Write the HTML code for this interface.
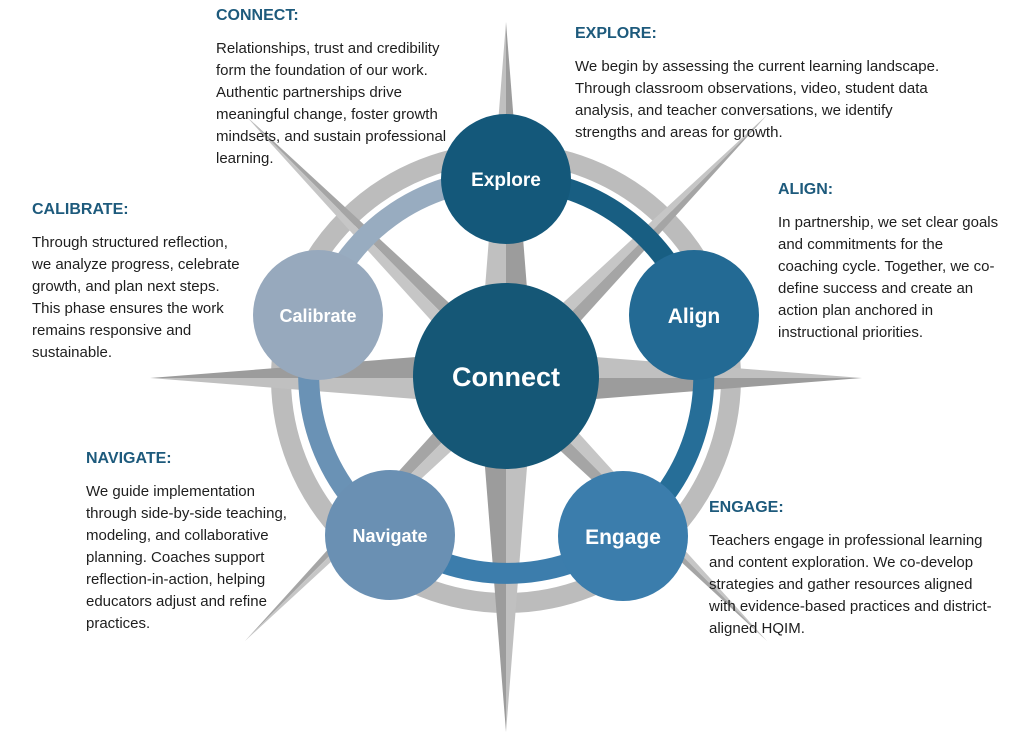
<!DOCTYPE html>
<html><head><meta charset="utf-8"><style>
body{margin:0;width:1024px;height:736px;background:#fff;position:relative;overflow:hidden;font-family:"Liberation Sans",sans-serif}
svg{position:absolute;left:0;top:0}
.b{position:absolute;font-size:15px;line-height:22px;color:#1e1e1e;white-space:nowrap}
.b h{display:block;font-weight:bold;color:#1d5a7c;font-size:16px;margin-bottom:12px;line-height:20px}
</style></head><body>
<svg width="1024" height="736" viewBox="0 0 1024 736">
<g>
<circle cx="506" cy="378" r="225" fill="none" stroke="#bcbcbc" stroke-width="20"/>
<polygon points="506,22 532,352 506,378" fill="#9c9c9c"/><polygon points="506,22 480,352 506,378" fill="#c0c0c0"/>
<polygon points="506,732 532,404 506,378" fill="#c0c0c0"/><polygon points="506,732 480,404 506,378" fill="#9c9c9c"/>
<polygon points="150,378 480,352 506,378" fill="#9c9c9c"/><polygon points="150,378 480,404 506,378" fill="#c0c0c0"/>
<polygon points="862,378 532,352 506,378" fill="#c0c0c0"/><polygon points="862,378 532,404 506,378" fill="#9c9c9c"/>
<polygon points="245,115 498,348 506,378" fill="#a5a5a5"/><polygon points="245,115 476,370 506,378" fill="#c6c6c6"/>
<polygon points="767,115 514,348 506,378" fill="#c6c6c6"/><polygon points="767,115 536,370 506,378" fill="#a5a5a5"/>
<polygon points="245,641 476,386 506,378" fill="#a5a5a5"/><polygon points="245,641 498,408 506,378" fill="#c6c6c6"/>
<polygon points="767,641 536,386 506,378" fill="#c6c6c6"/><polygon points="767,641 514,408 506,378" fill="#a5a5a5"/>
</g>
<g fill="none" stroke-width="21">
<path d="M506,179 A198,198 0 0 1 694,315" stroke="#185e82"/>
<path d="M694,315 A198,198 0 0 1 623,536" stroke="#266e98"/>
<path d="M623,536 A198,198 0 0 1 390,535" stroke="#3c7dac"/>
<path d="M390,535 A198,198 0 0 1 318,315" stroke="#6a92b5"/>
<path d="M318,315 A198,198 0 0 1 506,179" stroke="#98acc0"/>
</g>
<circle cx="506" cy="179" r="65" fill="#14587a"/>
<circle cx="694" cy="315" r="65" fill="#236a94"/>
<circle cx="623" cy="536" r="65" fill="#3b7dac"/>
<circle cx="390" cy="535" r="65" fill="#6a90b3"/>
<circle cx="318" cy="315" r="65" fill="#97a9bd"/>
<circle cx="506" cy="376" r="93" fill="#155776"/>
<g fill="#fff" font-weight="bold" text-anchor="middle" font-family="Liberation Sans,sans-serif">
<text x="506" y="186" font-size="19">Explore</text>
<text x="694" y="323" font-size="21">Align</text>
<text x="623" y="544" font-size="21">Engage</text>
<text x="390" y="542" font-size="18">Navigate</text>
<text x="318" y="322" font-size="18">Calibrate</text>
<text x="506" y="386" font-size="27">Connect</text>
</g>
</svg>
<div class="b" style="left:216px;top:6px"><h>CONNECT:</h>Relationships, trust and credibility<br>form the foundation of our work.<br>Authentic partnerships drive<br>meaningful change, foster growth<br>mindsets, and sustain professional<br>learning.</div>
<div class="b" style="left:575px;top:24px"><h>EXPLORE:</h>We begin by assessing the current learning landscape.<br>Through classroom observations, video, student data<br>analysis, and teacher conversations, we identify<br>strengths and areas for growth.</div>
<div class="b" style="left:778px;top:180px"><h>ALIGN:</h>In partnership, we set clear goals<br>and commitments for the<br>coaching cycle. Together, we co-<br>define success and create an<br>action plan anchored in<br>instructional priorities.</div>
<div class="b" style="left:32px;top:200px"><h>CALIBRATE:</h>Through structured reflection,<br>we analyze progress, celebrate<br>growth, and plan next steps.<br>This phase ensures the work<br>remains responsive and<br>sustainable.</div>
<div class="b" style="left:86px;top:449px"><h>NAVIGATE:</h>We guide implementation<br>through side-by-side teaching,<br>modeling, and collaborative<br>planning. Coaches support<br>reflection-in-action, helping<br>educators adjust and refine<br>practices.</div>
<div class="b" style="left:709px;top:498px"><h>ENGAGE:</h>Teachers engage in professional learning<br>and content exploration. We co-develop<br>strategies and gather resources aligned<br>with evidence-based practices and district-<br>aligned HQIM.</div>
</body></html>
